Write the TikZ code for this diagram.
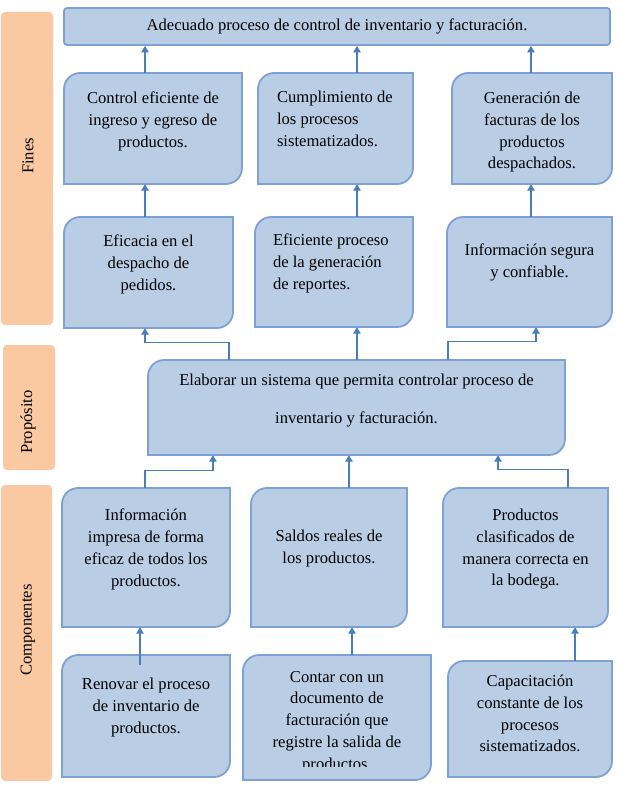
\documentclass[tikz,border=0pt]{standalone}
\usepackage{fontspec}
\setmainfont{Liberation Serif}
\usetikzlibrary{positioning,arrows.meta}

\definecolor{boxfill}{RGB}{185,205,229}
\definecolor{boxline}{RGB}{126,161,212}
\definecolor{linkblue}{RGB}{74,126,187}
\definecolor{bandorange}{RGB}{250,201,162}

\def\cornerradius{16}

% riquadro con angoli arrotondati in alto a sinistra e in basso a destra
\newcommand{\roundbox}[5]{%
  \draw[boxstyle] ({#2},{#3+\cornerradius})
      .. controls ({#2},{#3+0.45*\cornerradius}) and ({#2+0.45*\cornerradius},{#3}) .. ({#2+\cornerradius},{#3})
      -- ({#4},{#3}) -- ({#4},{#5-\cornerradius})
      .. controls ({#4},{#5-0.45*\cornerradius}) and ({#4-0.45*\cornerradius},{#5}) .. ({#4-\cornerradius},{#5})
      -- ({#2},{#5}) -- cycle;
  \node[inner sep=0pt, minimum width={(#4-#2)*1pt}, minimum height={(#5-#3)*1pt}] (#1) at ({(#2+#4)/2},{(#3+#5)/2}) {};
}

\tikzset{
  boxstyle/.style={draw=boxline, fill=boxfill, line width=1.8pt},
  txt/.style={inner sep=0pt, align=center, font=\fontsize{16.6}{21.8}\selectfont},
  link/.style={draw=linkblue, line width=1.3pt, -{Triangle[width=7.5pt,length=6.5pt]}},
  band/.style={fill=bandorange, rounded corners=4pt},
  bandlabel/.style={rotate=90, font=\fontsize{16.6}{20}\selectfont}
}

\begin{document}
\begin{tikzpicture}[x=1pt,y=-1pt]
\useasboundingbox (0,0) rectangle (616,800);

% Fasce laterali
\fill[band] (1,12) rectangle (53,325);
\fill[band] (3,345) rectangle (55,470);
\fill[band] (1,485) rectangle (52,781);
\node[bandlabel] (lfines) at (28,156) {Fines};
\node[bandlabel] (lprop) at (28,422) {Propósito};
\node[bandlabel] (lcomp) at (28,630) {Componentes};

% Colonne dei connettori
\coordinate (c1) at (145,0);
\coordinate (c2) at (357,0);
\coordinate (c3) at (531,0);

% Fine principale
\node[boxstyle, rounded corners=3pt, minimum width=546pt, minimum height=37pt, txt] (top) at (337,26.5)
  {Adecuado proceso de control de inventario y facturación.};

% Fines
\roundbox{A1}{64}{73}{242}{184}
\roundbox{A2}{258}{73}{413}{184}
\roundbox{A3}{452}{73}{612}{184}
\roundbox{B1}{64}{217}{233}{328}
\roundbox{B2}{255}{217}{413}{327}
\roundbox{B3}{447}{217}{612}{327}

\node[txt, below=19pt of A1.north] (tA1) {Control eficiente de\\ingreso y egreso de\\productos.};
\node[txt, align=left, below right=18pt and 19pt of A2.north west] (tA2) {Cumplimiento de\\los procesos\\sistematizados.};
\node[txt, below=19pt of A3.north] (tA3) {Generación de\\facturas de los\\productos\\despachados.};
\node[txt, below=18pt of B1.north] (tB1) {Eficacia en el\\despacho de\\pedidos.};
\node[txt, align=left, below right=17pt and 18pt of B2.north west] (tB2) {Eficiente proceso\\de la generación\\de reportes.};
\node[txt, below=27pt of B3.north] (tB3) {Información segura\\y confiable.};

% Proposito
\roundbox{E}{148}{360}{565}{455}
\node[txt, font=\fontsize{16.6}{38}\selectfont, below=14pt of E.north] (tE)
  {Elaborar un sistema que permita controlar proceso de\\inventario y facturación.};

% Componenti
\roundbox{C1}{62}{488}{230}{627}
\roundbox{C2}{251}{488}{407}{627}
\roundbox{C3}{443}{488}{608}{627}
\roundbox{D1}{62}{655}{230}{777}
\roundbox{D2}{243}{655}{431}{780}
\roundbox{D3}{448}{661}{612}{777}

\node[txt, below=21pt of C1.north] (tC1) {Información\\impresa de forma\\eficaz de todos los\\productos.};
\node[txt, below=42pt of C2.north] (tC2) {Saldos reales de\\los productos.};
\node[txt, below=21pt of C3.north] (tC3) {Productos\\clasificados de\\manera correcta en\\la bodega.};
\node[txt, below=23pt of D1.north] (tD1) {Renovar el proceso\\de inventario de\\productos.};
\begin{scope}
  \clip (D2.north west) rectangle ([yshift=14pt]D2.south east);
  \node[txt, below=16pt of D2.north] (tD2) {Contar con un\\documento de\\facturación que\\registre la salida de\\productos.};
\end{scope}
\node[txt, below=14pt of D3.north] (tD3) {Capacitación\\constante de los\\procesos\\sistematizados.};

% Connettori verso l'alto
\foreach \r/\s/\c in {A1/top/c1, A2/top/c2, A3/top/c3, B1/A1/c1, B2/A2/c2, B3/A3/c3}
  \draw[link] (\r.north -| \c) -- (\s.south -| \c);

\coordinate (e1) at (229,0);
\coordinate (e3) at (448,0);
\coordinate (e4) at (536,0);
\draw[link] (E.north -| e1) -- ++(0,-17) -| (B1.south -| c1);
\draw[link] (E.north -| c2) -- (B2.south -| c2);
\draw[link] (E.north -| e3) -- ++(0,-18) -| (B3.south -| e4);

\coordinate (e5) at (213,0);
\coordinate (e6) at (349,0);
\coordinate (e7) at (568,0);
\coordinate (e8) at (498,0);
\draw[link] (C1.north -| c1) -- ++(0,-17) -| (E.south -| e5);
\draw[link] (C2.north -| e6) -- (E.south -| e6);
\draw[link] (C3.north -| e7) -- ++(0,-18) -| (E.south -| e8);

\coordinate (d1) at (140,0);
\coordinate (d2) at (352,0);
\coordinate (d3) at (575,0);
\draw[link] ([yshift=-10pt]D1.north -| d1) -- (C1.south -| d1);
\draw[link] (D2.north -| d2) -- (C2.south -| d2);
\draw[link] (D3.north -| d3) -- (C3.south -| d3);

\end{tikzpicture}
\end{document}
